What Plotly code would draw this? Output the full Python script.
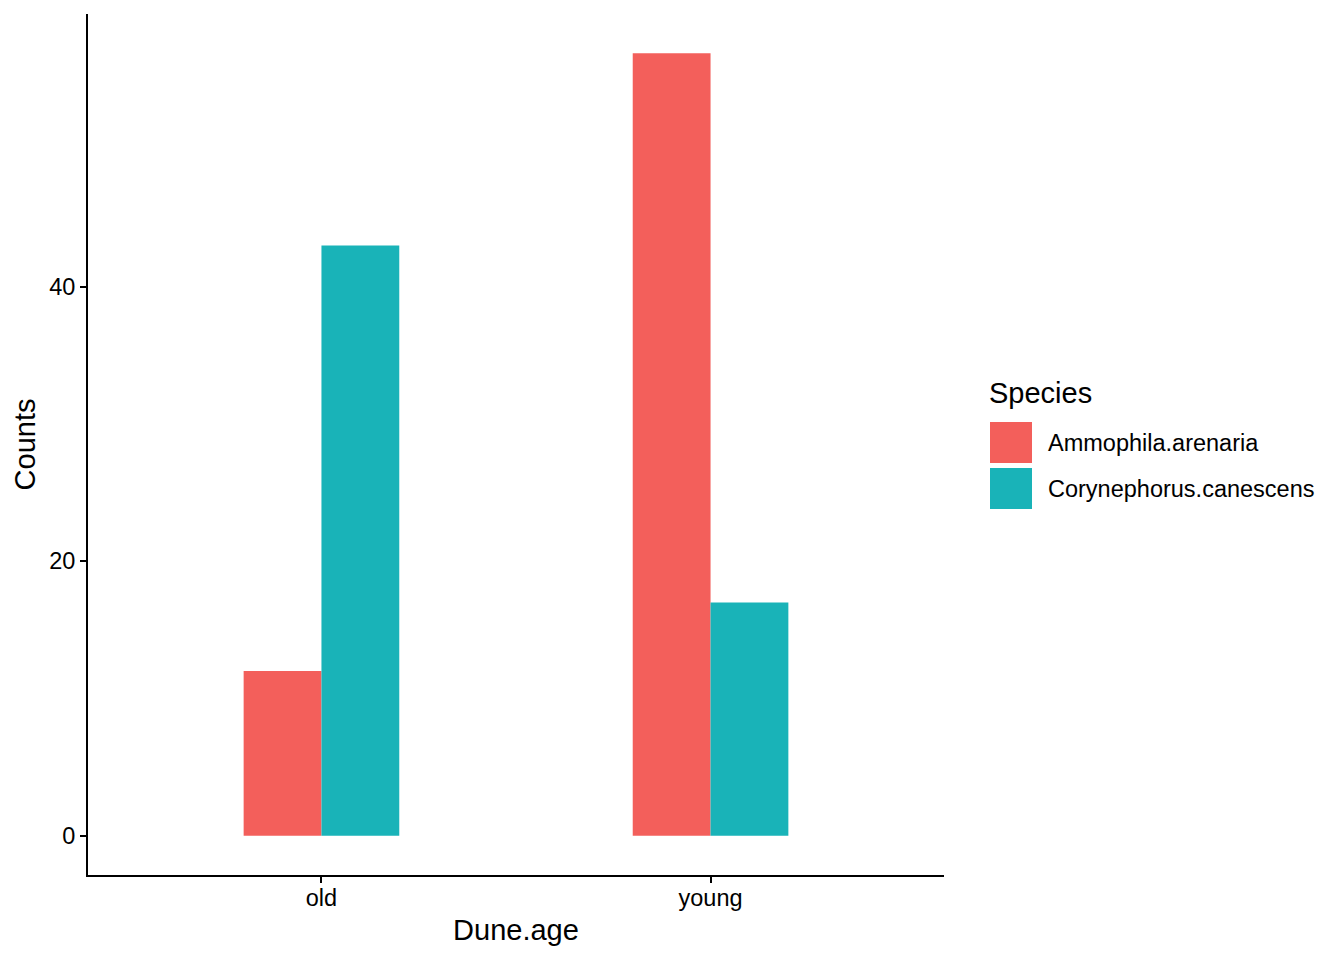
import plotly.graph_objects as go

categories = ["old", "young"]
species = ["Ammophila.arenaria", "Corynephorus.canescens"]
ammophila = [12, 57]
corynephorus = [43, 17]
colors = ["#F35F5B", "#19B3B8"]

W, H = 1344, 960
L, R, T, B = 88, 944, 14, 875

fig = go.Figure()
for name, vals, col in zip(species, [ammophila, corynephorus], colors):
    fig.add_trace(go.Bar(x=categories, y=vals, name=name, marker=dict(color=col, line=dict(width=0)),
                         showlegend=False))

def px(x):
    return (x - L) / (R - L)

def py(y):
    return (B - y) / (B - T)

shapes = []
annotations = []
# legend
annotations.append(dict(x=px(987), y=py(393), xref="paper", yref="paper", text="Species",
                        showarrow=False, xanchor="left", yanchor="middle",
                        font=dict(size=29, color="black")))
key_tops = [422, 468]
for i, (name, col) in enumerate(zip(species, colors)):
    t = key_tops[i]
    shapes.append(dict(type="rect", xref="paper", yref="paper", x0=px(990), x1=px(1032),
                       y0=py(t + 41), y1=py(t), fillcolor=col, line=dict(width=0)))
    annotations.append(dict(x=px(1046), y=py(t + 21), xref="paper", yref="paper", text=name,
                            showarrow=False, xanchor="left", yanchor="middle",
                            font=dict(size=23.5, color="black")))

fig.update_layout(
    width=W, height=H,
    margin=dict(l=L, r=W - R, t=T, b=H - B, pad=0),
    paper_bgcolor="white", plot_bgcolor="white",
    barmode="group", bargap=0.6, bargroupgap=0,
    font=dict(family="Liberation Sans, Arial, sans-serif", color="black"),
    shapes=shapes, annotations=annotations,
    xaxis=dict(range=[-0.6, 1.6], showline=True, linecolor="black", linewidth=2,
               ticks="outside", ticklen=6, tickwidth=2, tickcolor="black",
               showgrid=False, zeroline=False, ticklabelstandoff=-5,
               tickfont=dict(size=23.5, color="black"),
               title=dict(text="Dune.age", font=dict(size=29, color="black"), standoff=9)),
    yaxis=dict(range=[-2.85, 59.85], showline=True, linecolor="black", linewidth=2,
               ticks="outside", ticklen=6, tickwidth=2, tickcolor="black",
               tickvals=[0, 20, 40], showgrid=False, zeroline=False,
               tickfont=dict(size=23.5, color="black"),
               title=dict(text="Counts", font=dict(size=29, color="black"), standoff=5)),
)

fig.write_html("out.html", config={"displayModeBar": False},
               post_script="document.body.style.margin='0';")
